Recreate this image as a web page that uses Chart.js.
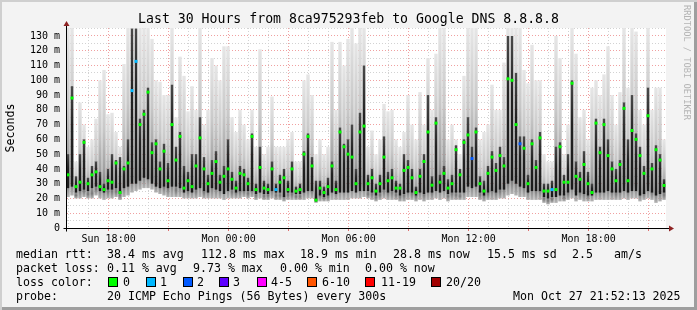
<!DOCTYPE html>
<html lang="en">
<head>
<meta charset="UTF-8">
<title>Smokeping - Google DNS</title>
<script src="https://cdn.jsdelivr.net/npm/chart.js@4.4.1/dist/chart.umd.min.js"></script>
<style>
    body {
        margin: 0;
        background: #fff;
    }

    .frame {
        position: relative;
        width: 697px;
        height: 310px;
        background: #f3f3f3;
        box-shadow: inset 2px 2px 0 #cfcfcf, inset -3px -3px 0 #9e9e9e;
        font-family: 'DejaVu Sans Mono', monospace;
        color: #000;
        overflow: hidden;
    }

    .frame canvas {
        position: absolute;
        left: 0;
        top: 0;
    }

    .title {
        position: absolute;
        left: 0;
        top: 11px;
        width: 697px;
        text-align: center;
        font-size: 13.2px;
        line-height: 16px;
        white-space: pre;
    }

    .ytitle {
        position: absolute;
        left: -40px;
        top: 121px;
        width: 100px;
        text-align: center;
        font-size: 11.6px;
        line-height: 14px;
        transform: rotate(-90deg);
    }

    .watermark {
        position: absolute;
        left: 682px;
        top: 5px;
        writing-mode: vertical-rl;
        font-size: 8.7px;
        color: #b4b4b4;
        white-space: pre;
    }

    .lg {
        position: absolute;
        font-size: 11.6px;
        line-height: 14px;
        white-space: pre;
    }

    .box {
        position: absolute;
        top: 277px;
        width: 8px;
        height: 8px;
        border: 1px solid #000;
    }
</style>
</head>
<body>
<div class="frame" id="frame">
    <canvas id="chart" width="697" height="310"></canvas>
    <div class="title">Last 30 Hours from 8ca975293feb to Google DNS 8.8.8.8</div>
    <div class="ytitle">Seconds</div>
    <div class="watermark">RRDTOOL / TOBI OETIKER</div>

    <div class="lg" style="left:16px;top:247px">median rtt:</div>
    <div class="lg" style="left:107px;top:247px">38.4 ms avg</div>
    <div class="lg" style="left:201px;top:247px">112.8 ms max</div>
    <div class="lg" style="left:300px;top:247px">18.9 ms min</div>
    <div class="lg" style="left:393px;top:247px">28.8 ms now</div>
    <div class="lg" style="left:487px;top:247px">15.5 ms sd</div>
    <div class="lg" style="left:572px;top:247px">2.5</div>
    <div class="lg" style="left:614px;top:247px">am/s</div>

    <div class="lg" style="left:16px;top:261px">packet loss:</div>
    <div class="lg" style="left:107px;top:261px">0.11 % avg</div>
    <div class="lg" style="left:193px;top:261px">9.73 % max</div>
    <div class="lg" style="left:280px;top:261px">0.00 % min</div>
    <div class="lg" style="left:365px;top:261px">0.00 % now</div>

    <div class="lg" style="left:16px;top:275px">loss color:</div>

    <div class="lg" style="left:16px;top:289px">probe:</div>
    <div class="lg" style="left:107px;top:289px">20 ICMP Echo Pings (56 Bytes) every 300s</div>
    <div class="lg" style="left:513px;top:289px">Mon Oct 27 21:52:13 2025</div>
</div>

<script>
    // time axis: 30 hours ending Mon 21:52:13, hours counted from Sun 00:00
    const startHour = 15 + 52 / 60 + 13 / 3600;
    const stepHours = 0.2; // one column every 12 minutes

    // median rtt (ms)
    const median = [
        36, 88, 28, 31, 58, 30, 36, 38, 28, 26, 32, 31, 44, 24, 40, 44, 93, 112.8, 70, 77, 92, 51, 57, 40, 52,
        32, 70, 46, 62, 27, 32, 28, 42, 61, 40, 30, 37, 45, 31, 35, 40, 33, 27, 37, 36, 30, 62, 26, 41, 27,
        26, 40, 26, 31, 34, 26, 40, 25, 26, 50, 62, 42, 18.9, 27, 24, 28, 42, 26, 65, 55, 50, 48, 30, 65, 69,
        30, 34, 25, 30, 48, 32, 34, 27, 27, 39, 41, 34, 24, 35, 45, 65, 29, 71, 31, 37, 27, 30, 53, 36, 58,
        63, 47, 65, 30, 25, 37, 48, 39, 49, 42, 101, 100, 70, 57, 54, 30, 57, 41, 61, 25, 25, 26, 26, 55, 31,
        31, 98, 35, 33, 43, 30, 24, 71, 51, 70, 49, 40, 32, 43, 81, 32, 66, 60, 49, 37, 76, 40, 53, 46, 28.8
    ];

    // dark core of the smoke (ms)
    const coreLow = [
        27, 28, 24, 25, 26, 25, 27, 28, 25, 24, 26, 26, 27, 23, 27, 28, 30, 30, 32, 34, 33, 30, 28, 27, 28,
        27, 28, 28, 27, 24, 25, 24, 26, 27, 25, 24, 27, 26, 25, 23, 25, 26, 24, 25, 25, 25, 25, 23, 24, 23,
        23, 25, 24, 24, 21, 24, 24, 23, 23, 24, 25, 25, 18, 22, 21, 22, 24, 23, 24, 24, 24, 25, 24, 25, 25,
        25, 24, 22, 24, 26, 24, 25, 24, 22, 23, 24, 24, 22, 24, 23, 24, 24, 25, 24, 25, 23, 24, 24, 24, 24,
        28, 27, 28, 24, 22, 24, 25, 24, 26, 26, 30, 32, 30, 28, 27, 24, 25, 25, 25, 21, 20, 21, 21, 22, 22,
        24, 26, 22, 24, 23, 22, 22, 24, 24, 24, 25, 24, 24, 24, 25, 24, 25, 25, 22, 23, 25, 24, 22, 23, 24
    ];
    const coreHigh = [
        50, 96, 35, 50, 60, 34, 42, 45, 38, 30, 40, 50, 46, 48, 42, 60, 135, 135, 74, 80, 95, 58, 60, 45, 57,
        44, 97, 55, 65, 42, 38, 50, 50, 75, 48, 36, 46, 52, 36, 42, 60, 38, 32, 42, 40, 34, 64, 30, 55, 32,
        30, 45, 30, 36, 40, 32, 45, 28, 30, 52, 64, 48, 32, 32, 28, 34, 45, 32, 68, 57, 60, 70, 40, 78, 110,
        36, 40, 30, 36, 62, 38, 40, 32, 30, 50, 46, 40, 28, 40, 50, 90, 35, 75, 36, 42, 33, 36, 56, 40, 60,
        75, 55, 68, 35, 32, 42, 52, 44, 55, 48, 130, 130, 105, 62, 62, 36, 60, 46, 65, 30, 30, 32, 55, 58, 36,
        50, 100, 45, 38, 52, 38, 30, 74, 55, 74, 60, 45, 40, 46, 85, 60, 90, 64, 55, 42, 95, 44, 56, 50, 33
    ];

    // full spread of the 20 pings (ms)
    const smokeLow = [
        21, 22, 20, 20, 21, 20, 20, 22, 20, 19, 20, 20, 21, 19, 21, 22, 24, 25, 26, 27, 27, 26, 24, 23, 22,
        21, 21, 21, 21, 20, 20, 20, 20, 21, 20, 20, 20, 20, 20, 19, 20, 20, 20, 20, 21, 20, 21, 19, 20, 19,
        19, 20, 19, 19, 18, 19, 19, 19, 19, 19, 20, 20, 17, 18, 18, 18, 19, 19, 19, 19, 19, 20, 20, 20, 21,
        20, 19, 18, 19, 20, 19, 19, 19, 18, 18, 19, 19, 18, 19, 18, 19, 19, 20, 19, 20, 18, 19, 19, 19, 19,
        21, 21, 21, 19, 18, 19, 19, 19, 20, 20, 22, 23, 22, 21, 21, 19, 19, 19, 19, 17, 16, 17, 17, 18, 18,
        19, 20, 18, 19, 18, 18, 18, 19, 19, 19, 19, 19, 19, 19, 20, 19, 20, 20, 18, 19, 20, 19, 17, 18, 19
    ];
    const smokeHigh = [
        136, 136, 45, 85, 70, 55, 60, 74, 100, 107, 77, 78, 65, 55, 111, 136, 136, 136, 136, 136, 136, 128, 100, 99, 90,
        90, 136, 75, 116, 103, 79, 96, 80, 136, 70, 80, 115, 110, 100, 123, 123, 75, 65, 80, 70, 60, 80, 55, 121, 50,
        55, 89, 55, 55, 55, 60, 65, 45, 45, 100, 104, 90, 50, 60, 50, 55, 126, 80, 126, 110, 128, 136, 125, 136, 136,
        55, 66, 50, 60, 84, 79, 80, 60, 55, 65, 90, 70, 60, 92, 70, 115, 80, 118, 136, 136, 60, 70, 60, 50, 103,
        136, 136, 136, 60, 65, 70, 97, 80, 80, 112, 136, 136, 136, 136, 107, 98, 124, 100, 100, 50, 45, 45, 130, 115, 50,
        70, 136, 118, 75, 80, 60, 95, 100, 90, 104, 123, 90, 70, 92, 136, 95, 136, 133, 80, 70, 136, 80, 95, 95, 60
    ];

    // [column index, loss class] for the few columns that lost packets
    const lossMarks = [[16, 1], [17, 1], [52, 1], [101, 2], [113, 2], [121, 1]];
    const lossLabels = ['0', '1', '2', '3', '4-5', '6-10', '11-19', '20/20'];
    const lossColors = ['#00ff00', '#00b8ff', '#0059ff', '#5e00ff', '#ff00ff', '#ff5500', '#ff0000', '#a10000'];

    const yTicks = [0, 5, 10, 15, 20, 25, 30, 35, 40, 45, 50, 55, 60, 65, 70, 75, 80, 85, 90, 95, 100, 105, 110, 115, 120, 125, 130, 135];
    const tickHours = [18, 24, 30, 36, 42];
    const tickLabels = ['Sun 18:00', 'Mon 00:00', 'Mon 06:00', 'Mon 12:00', 'Mon 18:00'];
    const yMax = 135.4;

    // legend colour boxes
    const boxX = [108, 146, 183, 219, 257, 307, 365, 431];
    const labelX = [123, 160, 197, 233, 271, 322, 381, 446];
    const frame = document.getElementById('frame');
    lossLabels.forEach((lab, i) => {
        const b = document.createElement('div');
        b.className = 'box';
        b.style.left = boxX[i] + 'px';
        b.style.background = lossColors[i];
        frame.appendChild(b);
        const t = document.createElement('div');
        t.className = 'lg';
        t.style.left = labelX[i] + 'px';
        t.style.top = '275px';
        t.textContent = lab;
        frame.appendChild(t);
    });

    const times = median.map((_, i) => startHour + (i + 0.5) * stepHours);
    const hourTicks = [];
    for (let h = Math.ceil(startHour); h < startHour + 30; h++) hourTicks.push(h);

    const medianColors = median.map((_, i) => {
        const m = lossMarks.find(p => p[0] === i);
        return lossColors[m ? m[1] : 0];
    });

    // each smoke column is darkest near its bottom and fades out towards its top
    function smokeFill(c) {
        const chart = c.chart;
        if (!chart.chartArea || !c.raw) return '#c8c8c8';
        const y = chart.scales.y;
        const bottom = y.getPixelForValue(c.raw.y[0]);
        const top = y.getPixelForValue(Math.min(c.raw.y[1], yMax));
        const g = chart.ctx.createLinearGradient(0, bottom, 0, top);
        g.addColorStop(0, '#b4b4b4');
        g.addColorStop(0.08, '#7c7c7c');
        g.addColorStop(0.25, '#a2a2a2');
        g.addColorStop(0.55, '#c8c8c8');
        g.addColorStop(1, '#e6e6e6');
        return g;
    }

    // darker grey at the foot of the dark core, as smokeping draws it
    function coreFill(c) {
        const chart = c.chart;
        if (!chart.chartArea || !c.raw) return '#1e1e1e';
        const y = chart.scales.y;
        const bottom = y.getPixelForValue(c.raw.y[0]);
        const top = y.getPixelForValue(Math.min(c.raw.y[1], yMax));
        const g = chart.ctx.createLinearGradient(0, bottom, 0, top);
        g.addColorStop(0, '#1a1a1a');
        g.addColorStop(0.6, '#222222');
        g.addColorStop(1, '#4a4a4a');
        return g;
    }

    const rrdFrame = {
        id: 'rrdFrame',
        beforeDraw(chart) {
            const { ctx, chartArea: a } = chart;
            ctx.save();
            ctx.fillStyle = '#ffffff';
            ctx.fillRect(a.left, a.top, a.right - a.left, a.bottom - a.top);
            ctx.restore();
        },
        afterDraw(chart) {
            const { ctx, chartArea: a } = chart;
            const l = Math.round(a.left) + 0.5, b = Math.round(a.bottom) + 0.5;
            ctx.save();
            ctx.strokeStyle = '#000';
            ctx.lineWidth = 1;
            ctx.beginPath();
            ctx.moveTo(l, b + 3);
            ctx.lineTo(l, a.top - 3);
            ctx.moveTo(l - 3, b);
            ctx.lineTo(a.right + 3, b);
            ctx.stroke();
            ctx.fillStyle = '#8e2323';
            ctx.beginPath();
            ctx.moveTo(l, a.top - 7);
            ctx.lineTo(l - 3, a.top - 2);
            ctx.lineTo(l + 3, a.top - 2);
            ctx.fill();
            ctx.beginPath();
            ctx.moveTo(a.right + 8, b);
            ctx.lineTo(a.right + 3, b - 3);
            ctx.lineTo(a.right + 3, b + 3);
            ctx.fill();
            ctx.restore();
        }
    };

    const axisFont = { family: "'DejaVu Sans Mono', monospace", size: 10 };

    new Chart(document.getElementById('chart'), {
        type: 'bar',
        data: {
            datasets: [
                {
                    type: 'scatter',
                    order: 0,
                    data: times.map((t, i) => ({ x: t, y: median[i] })),
                    pointStyle: 'rect',
                    pointRadius: 2.1,
                    pointBorderWidth: 0,
                    pointBackgroundColor: medianColors,
                    showLine: false
                },
                {
                    order: 1,
                    data: times.map((t, i) => ({ x: t, y: [coreLow[i], coreHigh[i]] })),
                    backgroundColor: coreFill,
                    borderWidth: 0,
                    grouped: false,
                    barPercentage: 0.6,
                    categoryPercentage: 1
                },
                {
                    order: 2,
                    data: times.map((t, i) => ({ x: t, y: [smokeLow[i], smokeHigh[i]] })),
                    backgroundColor: smokeFill,
                    borderWidth: 0,
                    grouped: false,
                    barPercentage: 0.85,
                    categoryPercentage: 1
                }
            ]
        },
        options: {
            responsive: false,
            animation: false,
            events: [],
            layout: { padding: { left: 0, right: 31, top: 28, bottom: 62 } },
            plugins: { legend: { display: false }, tooltip: { enabled: false } },
            scales: {
                x: {
                    type: 'linear',
                    min: startHour,
                    max: startHour + 30,
                    offset: false,
                    afterBuildTicks: s => { s.ticks = hourTicks.map(v => ({ value: v })); },
                    afterFit: s => { s.height = 20; },
                    ticks: {
                        autoSkip: false,
                        maxRotation: 0,
                        padding: 2,
                        color: '#000',
                        font: axisFont,
                        callback: v => {
                            const k = tickHours.indexOf(v);
                            return k >= 0 ? tickLabels[k] : '';
                        }
                    },
                    grid: {
                        offset: false,
                        tickLength: 3,
                        color: c => (c.tick && c.tick.value % 3 === 0) ? '#f0a0a0' : '#d2d2d2',
                        tickColor: c => (c.tick && c.tick.value % 3 === 0) ? '#e07070' : 'rgba(0,0,0,0)'
                    },
                    border: { color: '#000', dash: [1, 2] }
                },
                y: {
                    min: 0,
                    max: yMax,
                    afterBuildTicks: s => { s.ticks = yTicks.map(v => ({ value: v })); },
                    afterFit: s => { s.width = 66; },
                    ticks: {
                        autoSkip: false,
                        padding: 6,
                        color: '#000',
                        font: axisFont,
                        callback: v => v % 10 === 0 ? (v === 0 ? '0' : v + ' m') : ''
                    },
                    grid: {
                        drawTicks: false,
                        color: c => {
                            if (!c.tick || c.tick.value === 0) return 'rgba(0,0,0,0)';
                            return c.tick.value % 10 === 0 ? '#f0a0a0' : '#d2d2d2';
                        }
                    },
                    border: { color: '#000', dash: [1, 2] }
                }
            }
        },
        plugins: [rrdFrame]
    });
</script>
</body>
</html>
